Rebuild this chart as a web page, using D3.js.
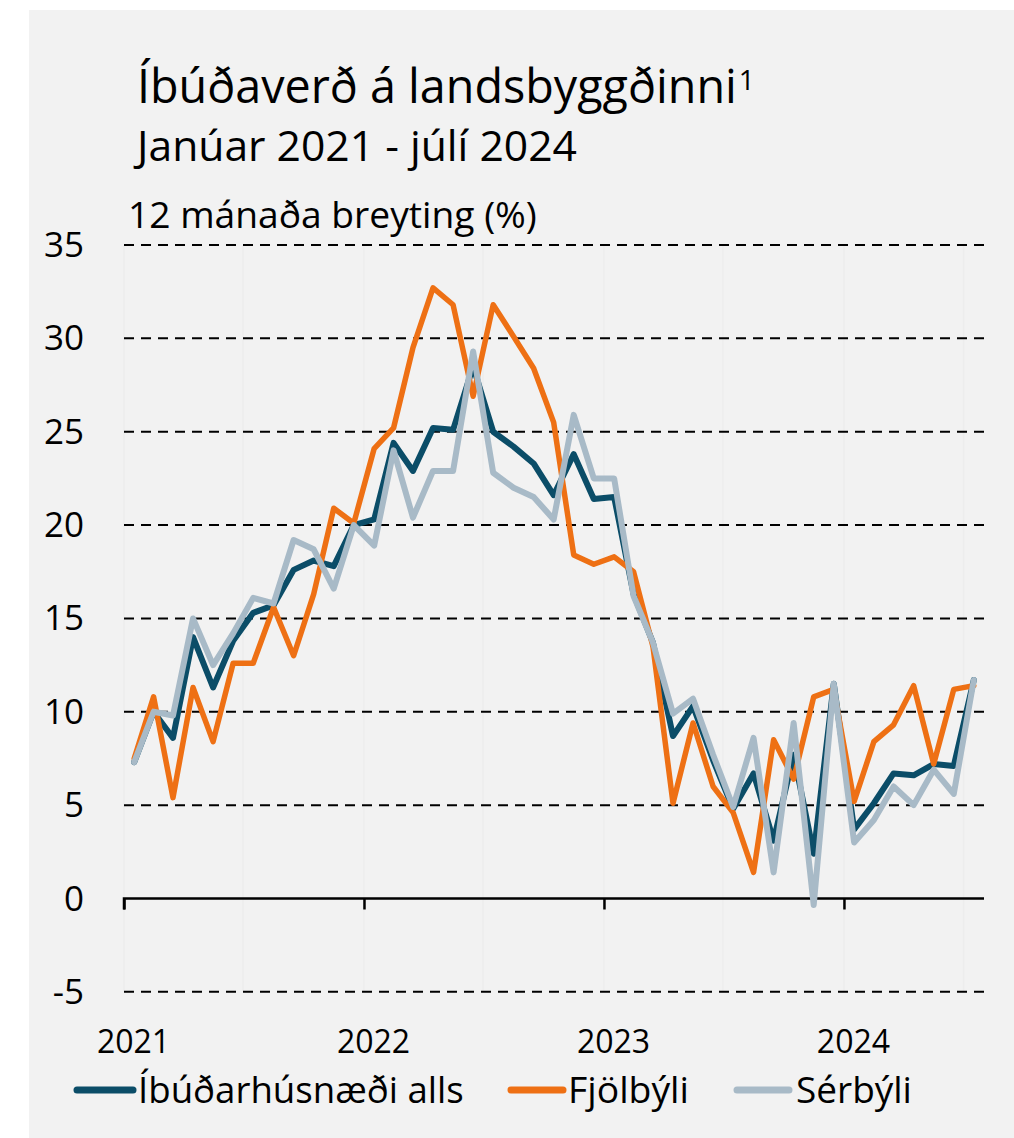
<!DOCTYPE html>
<html><head><meta charset="utf-8">
<script src="https://cdn.jsdelivr.net/npm/d3@7"></script>
<style>html,body{margin:0;padding:0;background:#fff;}svg{display:block;}</style>
</head><body>
<script>
// ---- data ----
const months = d3.range(43).map(i => new Date(2021, i, 1)); // Jan 2021 .. Jul 2024
const seriesNames = ["Íbúðarhúsnæði alls", "Fjölbýli", "Sérbýli"];
const alls = [7.3,10.0,8.6,14.0,11.3,13.8,15.3,15.7,17.6,18.1,17.8,20.0,20.3,24.4,22.9,25.2,25.1,28.5,25.0,24.2,23.3,21.6,23.8,21.4,21.5,16.3,13.7,8.7,10.3,7.4,4.8,6.7,3.1,7.7,2.4,11.5,3.7,5.1,6.7,6.6,7.2,7.1,11.7];
const fjolbyli = [7.5,10.8,5.4,11.3,8.4,12.6,12.6,15.6,13.0,16.3,20.9,20.1,24.1,25.2,29.5,32.7,31.8,26.9,31.8,30.1,28.4,25.5,18.4,17.9,18.3,17.5,13.5,5.1,9.4,6.0,4.6,1.4,8.5,6.4,10.8,11.2,5.2,8.4,9.3,11.4,7.2,11.2,11.4];
const serbyli = [7.3,10.0,9.8,15.0,12.5,14.2,16.1,15.8,19.2,18.7,16.6,20.0,18.9,24.0,20.4,22.9,22.9,29.3,22.8,22.0,21.5,20.3,25.9,22.5,22.5,16.2,13.7,9.9,10.7,7.7,4.9,8.6,1.4,9.4,-0.35,11.5,3.0,4.2,6.0,5.0,6.9,5.6,11.7];
const yTicks = [-5,0,5,10,15,20,25,30,35];
const yearLabels = ["2021","2022","2023","2024"];
const titleText = "Íbúðaverð á landsbyggðinni";
const titleSup = "1";
const subtitleText = "Janúar 2021 - júlí 2024";
const unitText = "12 mánaða breyting (%)";

// ---- layout ----
const W = 1014, H = 1138;
const FONT = "'Open Sans', 'Noto Sans', sans-serif";
const colors = ["#0b4d68", "#ee7014", "#a8bac7"];

const svg = d3.select("body").append("svg").attr("width", W).attr("height", H)
  .style("font-family", FONT);

svg.append("rect").attr("x", 29).attr("y", 10).attr("width", W - 29).attr("height", H - 10).attr("fill", "#f2f2f2");

const x = d3.scaleTime().domain([new Date(2021, 0, 1), new Date(2024, 7, 1)]).range([124, 984]);
const y = d3.scaleLinear().domain([0, 35]).range([898.5, 245]);
const xi = i => (x(months[i]) + x(new Date(2021, i + 1, 1))) / 2;

// faint half-year vertical lines
const halfYears = d3.range(0, 43, 6).map(i => new Date(2021, i, 1));
svg.append("g").selectAll("line").data(halfYears).join("line")
  .attr("x1", d => x(d)).attr("x2", d => x(d)).attr("y1", 245).attr("y2", y(-5))
  .attr("stroke", "#ededed").attr("stroke-width", 1.5);

// gridlines
svg.append("g").selectAll("line").data(yTicks.filter(v => v !== 0)).join("line")
  .attr("x1", 124).attr("x2", 984).attr("y1", d => y(d)).attr("y2", d => y(d))
  .attr("stroke", "#000").attr("stroke-width", 2).attr("stroke-dasharray", "10,7");

// y labels
svg.append("g").selectAll("text").data(yTicks).join("text")
  .attr("x", 84).attr("y", d => y(d) + 12).attr("text-anchor", "end")
  .attr("font-size", 35).attr("fill", "#000").text(d => d);

// x axis
const xAxis = d3.axisBottom(x).tickValues(yearLabels.map(yy => new Date(+yy, 0, 1)))
  .tickSize(11).tickFormat("");
const gx = svg.append("g").attr("transform", `translate(0,${y(0)})`).call(xAxis);
gx.select(".domain").attr("stroke", "#000").attr("stroke-width", 2.5).attr("d", `M124,11V0H984`);
gx.selectAll(".tick line").attr("stroke", "#000").attr("stroke-width", 2.5);
svg.append("g").selectAll("text").data(yearLabels).join("text")
  .attr("x", d => x(new Date(+d, 0, 1)) + 9.5).attr("y", 1053).attr("text-anchor", "middle")
  .attr("font-size", 32).attr("fill", "#000").text(d => d);

// lines
const data = [alls, fjolbyli, serbyli];
const line = d3.line().x((d, i) => xi(i)).y(d => y(d)).curve(d3.curveLinear);
const widths = [6, 5.5, 6];
[0, 1, 2].forEach(k => {
  svg.append("path").datum(data[k]).attr("d", line).attr("fill", "none")
    .attr("stroke", colors[k]).attr("stroke-width", widths[k]).attr("stroke-linejoin", "round").attr("stroke-linecap", "round");
});

// fit text helper
function fit(sel, target) {
  const w = sel.node().getComputedTextLength();
  const fs = parseFloat(sel.attr("font-size"));
  sel.attr("font-size", fs * target / w);
  return sel;
}

// titles
const t = svg.append("text").attr("x", 137).attr("y", 103).attr("font-size", 40).attr("fill", "#000").text(titleText);
fit(t, 600);
const tw = t.node().getComputedTextLength();
svg.append("text").attr("x", 137 + tw + 2).attr("y", 90).attr("font-size", 28).attr("fill", "#000").text(titleSup);
fit(svg.append("text").attr("x", 137).attr("y", 161).attr("font-size", 34).attr("fill", "#000").text(subtitleText), 440);
fit(svg.append("text").attr("x", 128).attr("y", 228).attr("font-size", 30).attr("fill", "#000").text(unitText), 409);

// legend
const legX = [[77, 133, 138, 326], [511, 563, 568, 121], [737, 789, 796, 116]];
seriesNames.forEach((name, k) => {
  const [l1, l2, tx, tw2] = legX[k];
  svg.append("line").attr("x1", l1).attr("x2", l2).attr("y1", 1090).attr("y2", 1090)
    .attr("stroke", colors[k]).attr("stroke-width", 7).attr("stroke-linecap", "round");
  fit(svg.append("text").attr("x", tx).attr("y", 1103).attr("font-size", 34).attr("fill", "#000").text(name), tw2);
});
</script>
</body></html>
